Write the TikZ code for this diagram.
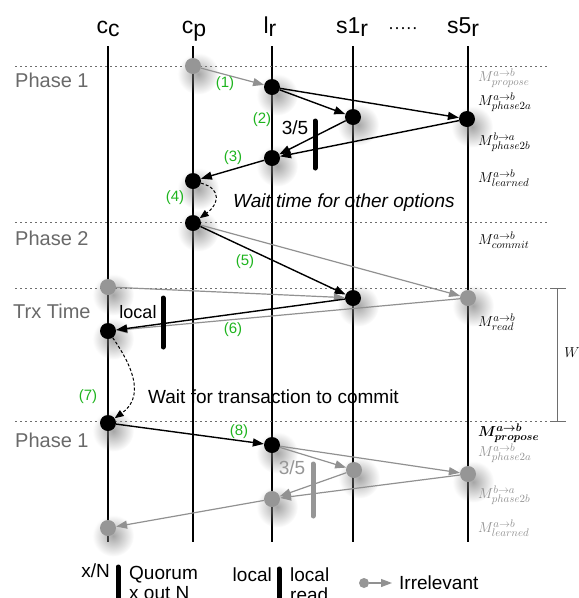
\documentclass[tikz,border=0pt]{standalone}
\usepackage{bm}
\usepackage{fontspec}
\setmainfont{Liberation Sans}
\usetikzlibrary{arrows.meta,shadows,fadings}
\definecolor{grn}{RGB}{30,180,30}
\definecolor{gdot}{RGB}{150,150,150}
\definecolor{gline}{RGB}{145,145,145}
\definecolor{phasec}{RGB}{105,105,105}
\definecolor{sepc}{RGB}{110,110,110}
\tikzfading[name=softdot, inner color=transparent!0, outer color=transparent!100]
\newcommand{\lsub}[1]{\raisebox{-3pt}{#1}}
\begin{document}
\begin{tikzpicture}[x=1pt,y=-1pt,
  life/.style={line width=1.3pt},
  dotb/.style={circle,fill=black,inner sep=0pt,minimum size=16pt,
    circular drop shadow={shadow scale=2.6,shadow xshift=2pt,shadow yshift=-3pt,opacity=0.7,path fading=softdot}},
  dotg/.style={dotb,fill=gdot},
  ab/.style={line width=1.4pt,-{Triangle[length=11pt,width=8pt]}},
  ag/.style={line width=1.2pt,draw=gline,-{Triangle[length=11pt,width=8pt]}},
  waitarr/.style={line width=1pt,dash pattern=on 3pt off 2pt,-{Triangle[length=9pt,width=7pt]}},
  sep/.style={draw=sepc,line width=0.9pt,dash pattern=on 2pt off 3pt},
  hdr/.style={font=\fontsize{23}{23}\selectfont,anchor=base,inner sep=0pt},
  phase/.style={font=\fontsize{20}{20}\selectfont,text=phasec,anchor=base west,inner sep=0pt},
  num/.style={font=\fontsize{15}{15}\selectfont,text=grn,inner sep=0pt},
  lbl/.style={font=\fontsize{19}{19}\selectfont,inner sep=0pt},
  msg/.style={font=\fontsize{15}{15}\selectfont,anchor=west,inner sep=0pt},
  msgg/.style={msg,text=gline},
  bar/.style={line width=5pt,line cap=round},
  wline/.style={draw=sepc,line width=1pt},
]
\useasboundingbox (0,0) rectangle (579,598);

% headers
\node[hdr] (hcc) at (108,33) {c\lsub{c}};
\node[hdr] (hcp) at (194,33) {c\lsub{p}};
\node[hdr] (hlr) at (270,33) {l\lsub{r}};
\node[hdr] (hs1) at (352,33) {s1\lsub{r}};
\node[hdr] (hdots) at (403,33) {\fontsize{18}{18}\selectfont ·····};
\node[hdr] (hs5) at (463,33) {s5\lsub{r}};

% lifelines
\foreach \n/\x in {cc/108,cp/193,lr/272,sa/353,sb/468}{
  \coordinate (\n top) at (\x,46);
  \coordinate (\n bot) at (\x,542);
  \draw[life] (\n top) -- (\n bot);
}

% separators
\draw[sep] (15,66) -- (548,66);
\draw[sep] (15,222) -- (548,222);
\draw[sep] (15,288) -- (550,288);
\draw[sep] (15,421) -- (550,421);

% W bracket
\draw[wline] (550,288) -- (566,288) (557,288) -- (557,421) (550,421) -- (566,421);
\node[font=\fontsize{15}{15}\selectfont,inner sep=0pt] (W) at (572,353) {$W$};

% phase labels
\node[phase] (ph1) at (15,87) {Phase 1};
\node[phase] (ph2) at (15,245) {Phase 2};
\node[phase] (trx) at (13,318) {Trx Time};
\node[phase] (ph1b) at (15,447) {Phase 1};

% dots
\node[dotg] (p0) at (193,66) {};
\node[dotb] (l1) at (272,87) {};
\node[dotb] (s11) at (353,117) {};
\node[dotb] (s51) at (467,119) {};
\node[dotb] (l2) at (272,158) {};
\node[dotb] (p1) at (193,181) {};
\node[dotb] (p2) at (193,223) {};
\node[dotg] (c1) at (108,287) {};
\node[dotb] (s12) at (353,298) {};
\node[dotg] (s52) at (468,298) {};
\node[dotb] (c2) at (108,331) {};
\node[dotb] (c3) at (108,423) {};
\node[dotb] (l3) at (272,445) {};
\node[dotg] (s13) at (354,470) {};
\node[dotg] (s53) at (468,474) {};
\node[dotg] (l4) at (272,499) {};
\node[dotg] (c4) at (108,528) {};

% edges
\draw[ag] (p0) -- (l1);
\draw[ab] (l1) -- (s11);
\draw[ab] (l1) -- (s51);
\draw[ab] (s11) -- (l2);
\draw[ab] (s51) -- (l2);
\draw[ab] (l2) -- (p1);
\draw[waitarr] (p1) .. controls +(30,8) and +(25,-18) .. (p2);
\draw[ag] (p2) -- (s52);
\draw[ab] (p2) -- (s12);
\draw[ag] (c1) -- (s12);
\draw[ag] (s52) -- (c2);
\draw[ab] (s12) -- (c2);
\draw[waitarr] (c2) .. controls +(28,40) and +(35,-25) .. (c3);
\draw[ab] (c3) -- (l3);
\draw[ag] (l3) -- (s13);
\draw[ag] (l3) -- (s53);
\draw[ag] (s13) -- (l4);
\draw[ag] (s53) -- (l4);
\draw[ag] (l4) -- (c4);

% quorum bars
\draw[bar] (315,121) -- (315,168);
\draw[bar] (163,298) -- (163,347);
\draw[bar,draw=gdot] (313,464) -- (313,516);

% numbers
\node[num] (n1) at (225,84) {(1)};
\node[num] (n2) at (262,120) {(2)};
\node[num] (n3) at (233,158) {(3)};
\node[num] (n4) at (175,198) {(4)};
\node[num] (n5) at (245,262) {(5)};
\node[num] (n6) at (233,330) {(6)};
\node[num] (n7) at (88,397) {(7)};
\node[num] (n8) at (239,432) {(8)};

% texts
\node[lbl] (q1) at (295,128) {3/5};
\node[lbl,text=gdot] (q2) at (292,468) {3/5};
\node[lbl,font=\fontsize{18}{18}\selectfont] (loc) at (138,312) {local};
\node[lbl,anchor=west,font=\fontsize{19}{19}\selectfont\itshape] (w1) at (233,203) {Wait time for other options};
\node[lbl,anchor=west] (w2) at (148,397) {Wait for transaction to commit};

% message labels
\node[msgg] (m1) at (478,78) {$M^{a\rightarrow b}_{propose}$};
\node[msg] (m2) at (478,102) {$M^{a\rightarrow b}_{phase2a}$};
\node[msg] (m3) at (478,142) {$M^{b\rightarrow a}_{phase2b}$};
\node[msg] (m4) at (478,178) {$M^{a\rightarrow b}_{learned}$};
\node[msg] (m5) at (478,240) {$M^{a\rightarrow b}_{commit}$};
\node[msg] (m6) at (478,322) {$M^{a\rightarrow b}_{read}$};
\node[msg] (m7) at (478,433) {$\bm{M^{a\rightarrow b}_{propose}}$};
\node[msgg] (m8) at (478,453) {$M^{a\rightarrow b}_{phase2a}$};
\node[msgg] (m9) at (478,495) {$M^{b\rightarrow a}_{phase2b}$};
\node[msgg] (m10) at (478,528) {$M^{a\rightarrow b}_{learned}$};

% legend
\node[lbl,anchor=base east] (lx) at (110,577) {x/N};
\draw[bar] (118,567) -- (118,610);
\node[lbl,anchor=base west] (lq1) at (129,579) {Quorum};
\node[lbl,anchor=base west] (lq2) at (129,599) {x out N};
\node[lbl,anchor=base east] (ll0) at (272,581) {local};
\draw[bar] (279,569) -- (279,610);
\node[lbl,anchor=base west] (ll1) at (290,581) {local};
\node[lbl,anchor=base west] (ll2) at (290,601) {read};
\node[circle,fill=gdot,inner sep=0pt,minimum size=10pt] (ld) at (364,583) {};
\coordinate (le) at (392,583);
\draw[line width=1.2pt,draw=gline,-{Triangle[length=11pt,width=8pt]}] (ld) -- (le);
\node[lbl,anchor=base west] (lirr) at (399,589) {Irrelevant};
\end{tikzpicture}
\end{document}
